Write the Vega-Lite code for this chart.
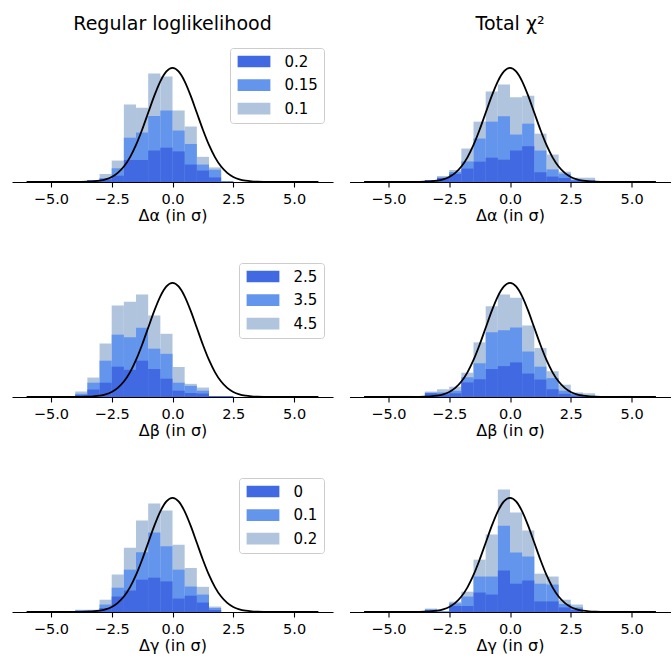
{
  "$schema": "https://vega.github.io/schema/vega-lite/v6.json",
  "padding": {"left": 12, "top": 15, "right": 0, "bottom": 0},
  "datasets": {
    "hist": [
      {"p":"ar","a":-3.5,"b":-3,"k":3,"s":"0.1","v":0.007},{"p":"ar","a":-3.5,"b":-3,"k":2,"s":"0.15","v":0.007},{"p":"ar","a":-3.5,"b":-3,"k":1,"s":"0.2","v":0.007},
      {"p":"ar","a":-3,"b":-2.5,"k":3,"s":"0.1","v":0.028},{"p":"ar","a":-3,"b":-2.5,"k":2,"s":"0.15","v":0.014},{"p":"ar","a":-3,"b":-2.5,"k":1,"s":"0.2","v":0.009},
      {"p":"ar","a":-2.5,"b":-2,"k":3,"s":"0.1","v":0.075},{"p":"ar","a":-2.5,"b":-2,"k":2,"s":"0.15","v":0.048},{"p":"ar","a":-2.5,"b":-2,"k":1,"s":"0.2","v":0.022},
      {"p":"ar","a":-2,"b":-1.5,"k":3,"s":"0.1","v":0.271},{"p":"ar","a":-2,"b":-1.5,"k":2,"s":"0.15","v":0.155},{"p":"ar","a":-2,"b":-1.5,"k":1,"s":"0.2","v":0.077},
      {"p":"ar","a":-1.5,"b":-1,"k":3,"s":"0.1","v":0.260},{"p":"ar","a":-1.5,"b":-1,"k":2,"s":"0.15","v":0.173},{"p":"ar","a":-1.5,"b":-1,"k":1,"s":"0.2","v":0.077},
      {"p":"ar","a":-1,"b":-0.5,"k":3,"s":"0.1","v":0.379},{"p":"ar","a":-1,"b":-0.5,"k":2,"s":"0.15","v":0.231},{"p":"ar","a":-1,"b":-0.5,"k":1,"s":"0.2","v":0.110},
      {"p":"ar","a":-0.5,"b":0,"k":3,"s":"0.1","v":0.369},{"p":"ar","a":-0.5,"b":0,"k":2,"s":"0.15","v":0.250},{"p":"ar","a":-0.5,"b":0,"k":1,"s":"0.2","v":0.120},
      {"p":"ar","a":0,"b":0.5,"k":3,"s":"0.1","v":0.250},{"p":"ar","a":0,"b":0.5,"k":2,"s":"0.15","v":0.180},{"p":"ar","a":0,"b":0.5,"k":1,"s":"0.2","v":0.107},
      {"p":"ar","a":0.5,"b":1,"k":3,"s":"0.1","v":0.194},{"p":"ar","a":0.5,"b":1,"k":2,"s":"0.15","v":0.133},{"p":"ar","a":0.5,"b":1,"k":1,"s":"0.2","v":0.061},
      {"p":"ar","a":1,"b":1.5,"k":3,"s":"0.1","v":0.088},{"p":"ar","a":1,"b":1.5,"k":2,"s":"0.15","v":0.061},{"p":"ar","a":1,"b":1.5,"k":1,"s":"0.2","v":0.040},
      {"p":"ar","a":1.5,"b":2,"k":3,"s":"0.1","v":0.051},{"p":"ar","a":1.5,"b":2,"k":2,"s":"0.15","v":0.043},{"p":"ar","a":1.5,"b":2,"k":1,"s":"0.2","v":0.016},
      {"p":"ar","a":2,"b":2.5,"k":3,"s":"0.1","v":0.002},{"p":"ar","a":2,"b":2.5,"k":2,"s":"0.15","v":0.002},{"p":"ar","a":2,"b":2.5,"k":1,"s":"0.2","v":0.002},

      {"p":"at","a":-3.5,"b":-3,"k":3,"s":"0.1","v":0.007},{"p":"at","a":-3.5,"b":-3,"k":2,"s":"0.15","v":0.007},{"p":"at","a":-3.5,"b":-3,"k":1,"s":"0.2","v":0.007},
      {"p":"at","a":-3,"b":-2.5,"k":3,"s":"0.1","v":0.021},{"p":"at","a":-3,"b":-2.5,"k":2,"s":"0.15","v":0.016},{"p":"at","a":-3,"b":-2.5,"k":1,"s":"0.2","v":0.014},
      {"p":"at","a":-2.5,"b":-2,"k":3,"s":"0.1","v":0.042},{"p":"at","a":-2.5,"b":-2,"k":2,"s":"0.15","v":0.035},{"p":"at","a":-2.5,"b":-2,"k":1,"s":"0.2","v":0.028},
      {"p":"at","a":-2,"b":-1.5,"k":3,"s":"0.1","v":0.117},{"p":"at","a":-2,"b":-1.5,"k":2,"s":"0.15","v":0.072},{"p":"at","a":-2,"b":-1.5,"k":1,"s":"0.2","v":0.047},
      {"p":"at","a":-1.5,"b":-1,"k":3,"s":"0.1","v":0.211},{"p":"at","a":-1.5,"b":-1,"k":2,"s":"0.15","v":0.152},{"p":"at","a":-1.5,"b":-1,"k":1,"s":"0.2","v":0.071},
      {"p":"at","a":-1,"b":-0.5,"k":3,"s":"0.1","v":0.316},{"p":"at","a":-1,"b":-0.5,"k":2,"s":"0.15","v":0.211},{"p":"at","a":-1,"b":-0.5,"k":1,"s":"0.2","v":0.085},
      {"p":"at","a":-0.5,"b":0,"k":3,"s":"0.1","v":0.341},{"p":"at","a":-0.5,"b":0,"k":2,"s":"0.15","v":0.230},{"p":"at","a":-0.5,"b":0,"k":1,"s":"0.2","v":0.078},
      {"p":"at","a":0,"b":0.5,"k":3,"s":"0.1","v":0.296},{"p":"at","a":0,"b":0.5,"k":2,"s":"0.15","v":0.166},{"p":"at","a":0,"b":0.5,"k":1,"s":"0.2","v":0.110},
      {"p":"at","a":0.5,"b":1,"k":3,"s":"0.1","v":0.302},{"p":"at","a":0.5,"b":1,"k":2,"s":"0.15","v":0.204},{"p":"at","a":0.5,"b":1,"k":1,"s":"0.2","v":0.125},
      {"p":"at","a":1,"b":1.5,"k":3,"s":"0.1","v":0.169},{"p":"at","a":1,"b":1.5,"k":2,"s":"0.15","v":0.110},{"p":"at","a":1,"b":1.5,"k":1,"s":"0.2","v":0.034},
      {"p":"at","a":1.5,"b":2,"k":3,"s":"0.1","v":0.096},{"p":"at","a":1.5,"b":2,"k":2,"s":"0.15","v":0.044},{"p":"at","a":1.5,"b":2,"k":1,"s":"0.2","v":0.019},
      {"p":"at","a":2,"b":2.5,"k":3,"s":"0.1","v":0.036},{"p":"at","a":2,"b":2.5,"k":2,"s":"0.15","v":0.029},{"p":"at","a":2,"b":2.5,"k":1,"s":"0.2","v":0.014},
      {"p":"at","a":2.5,"b":3,"k":3,"s":"0.1","v":0.015},{"p":"at","a":2.5,"b":3,"k":2,"s":"0.15","v":0.007},{"p":"at","a":2.5,"b":3,"k":1,"s":"0.2","v":0.005},
      {"p":"at","a":3,"b":3.5,"k":3,"s":"0.1","v":0.015},{"p":"at","a":3,"b":3.5,"k":2,"s":"0.15","v":0.007},{"p":"at","a":3,"b":3.5,"k":1,"s":"0.2","v":0.005},

      {"p":"br","a":-4,"b":-3.5,"k":3,"s":"4.5","v":0.019},{"p":"br","a":-4,"b":-3.5,"k":2,"s":"3.5","v":0.011},{"p":"br","a":-4,"b":-3.5,"k":1,"s":"2.5","v":0.007},
      {"p":"br","a":-3.5,"b":-3,"k":3,"s":"4.5","v":0.068},{"p":"br","a":-3.5,"b":-3,"k":2,"s":"3.5","v":0.050},{"p":"br","a":-3.5,"b":-3,"k":1,"s":"2.5","v":0.026},
      {"p":"br","a":-3,"b":-2.5,"k":3,"s":"4.5","v":0.187},{"p":"br","a":-3,"b":-2.5,"k":2,"s":"3.5","v":0.127},{"p":"br","a":-3,"b":-2.5,"k":1,"s":"2.5","v":0.050},
      {"p":"br","a":-2.5,"b":-2,"k":3,"s":"4.5","v":0.320},{"p":"br","a":-2.5,"b":-2,"k":2,"s":"3.5","v":0.218},{"p":"br","a":-2.5,"b":-2,"k":1,"s":"2.5","v":0.106},
      {"p":"br","a":-2,"b":-1.5,"k":3,"s":"4.5","v":0.333},{"p":"br","a":-2,"b":-1.5,"k":2,"s":"3.5","v":0.209},{"p":"br","a":-2,"b":-1.5,"k":1,"s":"2.5","v":0.095},
      {"p":"br","a":-1.5,"b":-1,"k":3,"s":"4.5","v":0.358},{"p":"br","a":-1.5,"b":-1,"k":2,"s":"3.5","v":0.242},{"p":"br","a":-1.5,"b":-1,"k":1,"s":"2.5","v":0.127},
      {"p":"br","a":-1,"b":-0.5,"k":3,"s":"4.5","v":0.285},{"p":"br","a":-1,"b":-0.5,"k":2,"s":"3.5","v":0.169},{"p":"br","a":-1,"b":-0.5,"k":1,"s":"2.5","v":0.098},
      {"p":"br","a":-0.5,"b":0,"k":3,"s":"4.5","v":0.221},{"p":"br","a":-0.5,"b":0,"k":2,"s":"3.5","v":0.151},{"p":"br","a":-0.5,"b":0,"k":1,"s":"2.5","v":0.064},
      {"p":"br","a":0,"b":0.5,"k":3,"s":"4.5","v":0.105},{"p":"br","a":0,"b":0.5,"k":2,"s":"3.5","v":0.050},{"p":"br","a":0,"b":0.5,"k":1,"s":"2.5","v":0.022},
      {"p":"br","a":0.5,"b":1,"k":3,"s":"4.5","v":0.046},{"p":"br","a":0.5,"b":1,"k":2,"s":"3.5","v":0.039},{"p":"br","a":0.5,"b":1,"k":1,"s":"2.5","v":0.014},
      {"p":"br","a":1,"b":1.5,"k":3,"s":"4.5","v":0.033},{"p":"br","a":1,"b":1.5,"k":2,"s":"3.5","v":0.022},{"p":"br","a":1,"b":1.5,"k":1,"s":"2.5","v":0.012},
      {"p":"br","a":1.5,"b":2,"k":3,"s":"4.5","v":0.003},{"p":"br","a":1.5,"b":2,"k":2,"s":"3.5","v":0.003},{"p":"br","a":1.5,"b":2,"k":1,"s":"2.5","v":0.003},
      {"p":"br","a":2,"b":2.5,"k":3,"s":"4.5","v":0.003},{"p":"br","a":2,"b":2.5,"k":2,"s":"3.5","v":0.003},{"p":"br","a":2,"b":2.5,"k":1,"s":"2.5","v":0.003},

      {"p":"bt","a":-5,"b":-4.5,"k":3,"s":"4.5","v":0.004},
      {"p":"bt","a":-4.5,"b":-4,"k":3,"s":"4.5","v":0.004},
      {"p":"bt","a":-3.5,"b":-3,"k":3,"s":"4.5","v":0.019},{"p":"bt","a":-3.5,"b":-3,"k":2,"s":"3.5","v":0.015},{"p":"bt","a":-3.5,"b":-3,"k":1,"s":"2.5","v":0.013},
      {"p":"bt","a":-3,"b":-2.5,"k":3,"s":"4.5","v":0.027},{"p":"bt","a":-3,"b":-2.5,"k":2,"s":"3.5","v":0.016},{"p":"bt","a":-3,"b":-2.5,"k":1,"s":"2.5","v":0.009},
      {"p":"bt","a":-2.5,"b":-2,"k":3,"s":"4.5","v":0.036},{"p":"bt","a":-2.5,"b":-2,"k":2,"s":"3.5","v":0.022},{"p":"bt","a":-2.5,"b":-2,"k":1,"s":"2.5","v":0.013},
      {"p":"bt","a":-2,"b":-1.5,"k":3,"s":"4.5","v":0.085},{"p":"bt","a":-2,"b":-1.5,"k":2,"s":"3.5","v":0.069},{"p":"bt","a":-2,"b":-1.5,"k":1,"s":"2.5","v":0.051},
      {"p":"bt","a":-1.5,"b":-1,"k":3,"s":"4.5","v":0.191},{"p":"bt","a":-1.5,"b":-1,"k":2,"s":"3.5","v":0.118},{"p":"bt","a":-1.5,"b":-1,"k":1,"s":"2.5","v":0.062},
      {"p":"bt","a":-1,"b":-0.5,"k":3,"s":"4.5","v":0.317},{"p":"bt","a":-1,"b":-0.5,"k":2,"s":"3.5","v":0.226},{"p":"bt","a":-1,"b":-0.5,"k":1,"s":"2.5","v":0.098},
      {"p":"bt","a":-0.5,"b":0,"k":3,"s":"4.5","v":0.358},{"p":"bt","a":-0.5,"b":0,"k":2,"s":"3.5","v":0.233},{"p":"bt","a":-0.5,"b":0,"k":1,"s":"2.5","v":0.108},
      {"p":"bt","a":0,"b":0.5,"k":3,"s":"4.5","v":0.347},{"p":"bt","a":0,"b":0.5,"k":2,"s":"3.5","v":0.243},{"p":"bt","a":0,"b":0.5,"k":1,"s":"2.5","v":0.121},
      {"p":"bt","a":0.5,"b":1,"k":3,"s":"4.5","v":0.250},{"p":"bt","a":0.5,"b":1,"k":2,"s":"3.5","v":0.159},{"p":"bt","a":0.5,"b":1,"k":1,"s":"2.5","v":0.082},
      {"p":"bt","a":1,"b":1.5,"k":3,"s":"4.5","v":0.171},{"p":"bt","a":1,"b":1.5,"k":2,"s":"3.5","v":0.106},{"p":"bt","a":1,"b":1.5,"k":1,"s":"2.5","v":0.061},
      {"p":"bt","a":1.5,"b":2,"k":3,"s":"4.5","v":0.090},{"p":"bt","a":1.5,"b":2,"k":2,"s":"3.5","v":0.066},{"p":"bt","a":1.5,"b":2,"k":1,"s":"2.5","v":0.027},
      {"p":"bt","a":2,"b":2.5,"k":3,"s":"4.5","v":0.043},{"p":"bt","a":2,"b":2.5,"k":2,"s":"3.5","v":0.022},{"p":"bt","a":2,"b":2.5,"k":1,"s":"2.5","v":0.011},
      {"p":"bt","a":2.5,"b":3,"k":3,"s":"4.5","v":0.016},{"p":"bt","a":2.5,"b":3,"k":2,"s":"3.5","v":0.011},{"p":"bt","a":2.5,"b":3,"k":1,"s":"2.5","v":0.005},
      {"p":"bt","a":3,"b":3.5,"k":3,"s":"4.5","v":0.013},{"p":"bt","a":3,"b":3.5,"k":2,"s":"3.5","v":0.005},{"p":"bt","a":3,"b":3.5,"k":1,"s":"2.5","v":0.002},
      {"p":"bt","a":4.5,"b":5,"k":3,"s":"4.5","v":0.004},

      {"p":"gr","a":-4.5,"b":-4,"k":3,"s":"0.2","v":0.003},{"p":"gr","a":-4.5,"b":-4,"k":2,"s":"0.1","v":0.002},{"p":"gr","a":-4.5,"b":-4,"k":1,"s":"0","v":0.002},
      {"p":"gr","a":-4,"b":-3.5,"k":3,"s":"0.2","v":0.008},{"p":"gr","a":-4,"b":-3.5,"k":2,"s":"0.1","v":0.005},{"p":"gr","a":-4,"b":-3.5,"k":1,"s":"0","v":0.004},
      {"p":"gr","a":-3.5,"b":-3,"k":3,"s":"0.2","v":0.008},{"p":"gr","a":-3.5,"b":-3,"k":2,"s":"0.1","v":0.006},{"p":"gr","a":-3.5,"b":-3,"k":1,"s":"0","v":0.005},
      {"p":"gr","a":-3,"b":-2.5,"k":3,"s":"0.2","v":0.043},{"p":"gr","a":-3,"b":-2.5,"k":2,"s":"0.1","v":0.026},{"p":"gr","a":-3,"b":-2.5,"k":1,"s":"0","v":0.014},
      {"p":"gr","a":-2.5,"b":-2,"k":3,"s":"0.2","v":0.131},{"p":"gr","a":-2.5,"b":-2,"k":2,"s":"0.1","v":0.085},{"p":"gr","a":-2.5,"b":-2,"k":1,"s":"0","v":0.054},
      {"p":"gr","a":-2,"b":-1.5,"k":3,"s":"0.2","v":0.225},{"p":"gr","a":-2,"b":-1.5,"k":2,"s":"0.1","v":0.148},{"p":"gr","a":-2,"b":-1.5,"k":1,"s":"0","v":0.075},
      {"p":"gr","a":-1.5,"b":-1,"k":3,"s":"0.2","v":0.320},{"p":"gr","a":-1.5,"b":-1,"k":2,"s":"0.1","v":0.209},{"p":"gr","a":-1.5,"b":-1,"k":1,"s":"0","v":0.113},
      {"p":"gr","a":-1,"b":-0.5,"k":3,"s":"0.2","v":0.379},{"p":"gr","a":-1,"b":-0.5,"k":2,"s":"0.1","v":0.278},{"p":"gr","a":-1,"b":-0.5,"k":1,"s":"0","v":0.120},
      {"p":"gr","a":-0.5,"b":0,"k":3,"s":"0.2","v":0.355},{"p":"gr","a":-0.5,"b":0,"k":2,"s":"0.1","v":0.230},{"p":"gr","a":-0.5,"b":0,"k":1,"s":"0","v":0.107},
      {"p":"gr","a":0,"b":0.5,"k":3,"s":"0.2","v":0.235},{"p":"gr","a":0,"b":0.5,"k":2,"s":"0.1","v":0.148},{"p":"gr","a":0,"b":0.5,"k":1,"s":"0","v":0.047},
      {"p":"gr","a":0.5,"b":1,"k":3,"s":"0.2","v":0.154},{"p":"gr","a":0.5,"b":1,"k":2,"s":"0.1","v":0.089},{"p":"gr","a":0.5,"b":1,"k":1,"s":"0","v":0.057},
      {"p":"gr","a":1,"b":1.5,"k":3,"s":"0.2","v":0.088},{"p":"gr","a":1,"b":1.5,"k":2,"s":"0.1","v":0.061},{"p":"gr","a":1,"b":1.5,"k":1,"s":"0","v":0.033},
      {"p":"gr","a":1.5,"b":2,"k":3,"s":"0.2","v":0.019},{"p":"gr","a":1.5,"b":2,"k":2,"s":"0.1","v":0.014},{"p":"gr","a":1.5,"b":2,"k":1,"s":"0","v":0.007},

      {"p":"gt","a":-3.5,"b":-3,"k":3,"s":"0.2","v":0.012},{"p":"gt","a":-3.5,"b":-3,"k":2,"s":"0.1","v":0.009},{"p":"gt","a":-3.5,"b":-3,"k":1,"s":"0","v":0.007},
      {"p":"gt","a":-3,"b":-2.5,"k":3,"s":"0.2","v":0.002},{"p":"gt","a":-3,"b":-2.5,"k":2,"s":"0.1","v":0.002},{"p":"gt","a":-3,"b":-2.5,"k":1,"s":"0","v":0.001},
      {"p":"gt","a":-2.5,"b":-2,"k":3,"s":"0.2","v":0.036},{"p":"gt","a":-2.5,"b":-2,"k":2,"s":"0.1","v":0.030},{"p":"gt","a":-2.5,"b":-2,"k":1,"s":"0","v":0.021},
      {"p":"gt","a":-2,"b":-1.5,"k":3,"s":"0.2","v":0.071},{"p":"gt","a":-2,"b":-1.5,"k":2,"s":"0.1","v":0.054},{"p":"gt","a":-2,"b":-1.5,"k":1,"s":"0","v":0.021},
      {"p":"gt","a":-1.5,"b":-1,"k":3,"s":"0.2","v":0.183},{"p":"gt","a":-1.5,"b":-1,"k":2,"s":"0.1","v":0.124},{"p":"gt","a":-1.5,"b":-1,"k":1,"s":"0","v":0.068},
      {"p":"gt","a":-1,"b":-0.5,"k":3,"s":"0.2","v":0.271},{"p":"gt","a":-1,"b":-0.5,"k":2,"s":"0.1","v":0.124},{"p":"gt","a":-1,"b":-0.5,"k":1,"s":"0","v":0.061},
      {"p":"gt","a":-0.5,"b":0,"k":3,"s":"0.2","v":0.428},{"p":"gt","a":-0.5,"b":0,"k":2,"s":"0.1","v":0.302},{"p":"gt","a":-0.5,"b":0,"k":1,"s":"0","v":0.145},
      {"p":"gt","a":0,"b":0.5,"k":3,"s":"0.2","v":0.348},{"p":"gt","a":0,"b":0.5,"k":2,"s":"0.1","v":0.208},{"p":"gt","a":0,"b":0.5,"k":1,"s":"0","v":0.099},
      {"p":"gt","a":0.5,"b":1,"k":3,"s":"0.2","v":0.285},{"p":"gt","a":0.5,"b":1,"k":2,"s":"0.1","v":0.194},{"p":"gt","a":0.5,"b":1,"k":1,"s":"0","v":0.110},
      {"p":"gt","a":1,"b":1.5,"k":3,"s":"0.2","v":0.134},{"p":"gt","a":1,"b":1.5,"k":2,"s":"0.1","v":0.099},{"p":"gt","a":1,"b":1.5,"k":1,"s":"0","v":0.037},
      {"p":"gt","a":1.5,"b":2,"k":3,"s":"0.2","v":0.124},{"p":"gt","a":1.5,"b":2,"k":2,"s":"0.1","v":0.096},{"p":"gt","a":1.5,"b":2,"k":1,"s":"0","v":0.037},
      {"p":"gt","a":2,"b":2.5,"k":3,"s":"0.2","v":0.043},{"p":"gt","a":2,"b":2.5,"k":2,"s":"0.1","v":0.028},{"p":"gt","a":2,"b":2.5,"k":1,"s":"0","v":0.016},
      {"p":"gt","a":2.5,"b":3,"k":3,"s":"0.2","v":0.026},{"p":"gt","a":2.5,"b":3,"k":2,"s":"0.1","v":0.016},{"p":"gt","a":2.5,"b":3,"k":1,"s":"0","v":0.007}
    ],
    "curve": [
      {"x":-6,"y":0},{"x":-5,"y":0},{"x":-4.5,"y":0.00002},{"x":-4,"y":0.00013},{"x":-3.75,"y":0.00035},{"x":-3.5,"y":0.00087},{"x":-3.25,"y":0.00203},
      {"x":-3,"y":0.00443},{"x":-2.75,"y":0.00909},{"x":-2.5,"y":0.01753},{"x":-2.25,"y":0.03174},{"x":-2,"y":0.05399},{"x":-1.75,"y":0.08628},
      {"x":-1.5,"y":0.12952},{"x":-1.25,"y":0.18265},{"x":-1,"y":0.24197},{"x":-0.75,"y":0.30114},{"x":-0.5,"y":0.35207},{"x":-0.25,"y":0.38667},
      {"x":0,"y":0.39894},
      {"x":0.25,"y":0.38667},{"x":0.5,"y":0.35207},{"x":0.75,"y":0.30114},{"x":1,"y":0.24197},{"x":1.25,"y":0.18265},{"x":1.5,"y":0.12952},
      {"x":1.75,"y":0.08628},{"x":2,"y":0.05399},{"x":2.25,"y":0.03174},{"x":2.5,"y":0.01753},{"x":2.75,"y":0.00909},{"x":3,"y":0.00443},
      {"x":3.25,"y":0.00203},{"x":3.5,"y":0.00087},{"x":3.75,"y":0.00035},{"x":4,"y":0.00013},{"x":4.5,"y":0.00002},{"x":5,"y":0},{"x":6,"y":0}
    ]
  },
  "columns": 2,
  "spacing": {"row": 72, "column": 16.5},
  "bounds": "flush",
  "resolve": {"scale": {"color": "independent"}, "legend": {"color": "independent"}},
  "concat": [
    {
      "width": 321, "height": 143,
      "title": "Regular loglikelihood",
      "layer": [
        {"data": {"name": "hist"}, "transform": [{"filter": "datum.p == 'ar'"}],
         "mark": {"type": "bar"},
         "encoding": {
           "x": {"field": "a", "type": "quantitative", "scale": {"domain": [-6.6, 6.6], "nice": false, "zero": false}, "axis": {"title": "Δα (in σ)", "values": [-5, -2.5, 0, 2.5, 5], "format": ".1f"}},
           "x2": {"field": "b"},
           "y": {"field": "v", "type": "quantitative", "stack": null, "scale": {"domain": [0, 0.5], "nice": false}, "axis": null},
           "y2": {"datum": 0},
           "color": {"field": "s", "type": "nominal", "scale": {"domain": ["0.2", "0.15", "0.1"], "range": ["#4169e1", "#6495ed", "#b0c4de"]}, "legend": {}},
           "order": {"field": "k", "sort": "descending"}
         }},
        {"data": {"name": "curve"}, "mark": {"type": "line", "color": "black", "strokeWidth": 1.8, "interpolate": "monotone"},
         "encoding": {"x": {"field": "x", "type": "quantitative"}, "y": {"field": "y", "type": "quantitative"}}}
      ]
    },
    {
      "width": 321, "height": 143,
      "title": "Total χ²",
      "layer": [
        {"data": {"name": "hist"}, "transform": [{"filter": "datum.p == 'at'"}],
         "mark": {"type": "bar"},
         "encoding": {
           "x": {"field": "a", "type": "quantitative", "scale": {"domain": [-6.6, 6.6], "nice": false, "zero": false}, "axis": {"title": "Δα (in σ)", "values": [-5, -2.5, 0, 2.5, 5], "format": ".1f"}},
           "x2": {"field": "b"},
           "y": {"field": "v", "type": "quantitative", "stack": null, "scale": {"domain": [0, 0.5], "nice": false}, "axis": null},
           "y2": {"datum": 0},
           "color": {"field": "s", "type": "nominal", "scale": {"domain": ["0.2", "0.15", "0.1"], "range": ["#4169e1", "#6495ed", "#b0c4de"]}, "legend": null},
           "order": {"field": "k", "sort": "descending"}
         }},
        {"data": {"name": "curve"}, "mark": {"type": "line", "color": "black", "strokeWidth": 1.8, "interpolate": "monotone"},
         "encoding": {"x": {"field": "x", "type": "quantitative"}, "y": {"field": "y", "type": "quantitative"}}}
      ]
    },
    {
      "width": 321, "height": 143,
      "layer": [
        {"data": {"name": "hist"}, "transform": [{"filter": "datum.p == 'br'"}],
         "mark": {"type": "bar"},
         "encoding": {
           "x": {"field": "a", "type": "quantitative", "scale": {"domain": [-6.6, 6.6], "nice": false, "zero": false}, "axis": {"title": "Δβ (in σ)", "values": [-5, -2.5, 0, 2.5, 5], "format": ".1f"}},
           "x2": {"field": "b"},
           "y": {"field": "v", "type": "quantitative", "stack": null, "scale": {"domain": [0, 0.5], "nice": false}, "axis": null},
           "y2": {"datum": 0},
           "color": {"field": "s", "type": "nominal", "scale": {"domain": ["2.5", "3.5", "4.5"], "range": ["#4169e1", "#6495ed", "#b0c4de"]}, "legend": {}},
           "order": {"field": "k", "sort": "descending"}
         }},
        {"data": {"name": "curve"}, "mark": {"type": "line", "color": "black", "strokeWidth": 1.8, "interpolate": "monotone"},
         "encoding": {"x": {"field": "x", "type": "quantitative"}, "y": {"field": "y", "type": "quantitative"}}}
      ]
    },
    {
      "width": 321, "height": 143,
      "layer": [
        {"data": {"name": "hist"}, "transform": [{"filter": "datum.p == 'bt'"}],
         "mark": {"type": "bar"},
         "encoding": {
           "x": {"field": "a", "type": "quantitative", "scale": {"domain": [-6.6, 6.6], "nice": false, "zero": false}, "axis": {"title": "Δβ (in σ)", "values": [-5, -2.5, 0, 2.5, 5], "format": ".1f"}},
           "x2": {"field": "b"},
           "y": {"field": "v", "type": "quantitative", "stack": null, "scale": {"domain": [0, 0.5], "nice": false}, "axis": null},
           "y2": {"datum": 0},
           "color": {"field": "s", "type": "nominal", "scale": {"domain": ["2.5", "3.5", "4.5"], "range": ["#4169e1", "#6495ed", "#b0c4de"]}, "legend": null},
           "order": {"field": "k", "sort": "descending"}
         }},
        {"data": {"name": "curve"}, "mark": {"type": "line", "color": "black", "strokeWidth": 1.8, "interpolate": "monotone"},
         "encoding": {"x": {"field": "x", "type": "quantitative"}, "y": {"field": "y", "type": "quantitative"}}}
      ]
    },
    {
      "width": 321, "height": 143,
      "layer": [
        {"data": {"name": "hist"}, "transform": [{"filter": "datum.p == 'gr'"}],
         "mark": {"type": "bar"},
         "encoding": {
           "x": {"field": "a", "type": "quantitative", "scale": {"domain": [-6.6, 6.6], "nice": false, "zero": false}, "axis": {"title": "Δγ (in σ)", "values": [-5, -2.5, 0, 2.5, 5], "format": ".1f"}},
           "x2": {"field": "b"},
           "y": {"field": "v", "type": "quantitative", "stack": null, "scale": {"domain": [0, 0.5], "nice": false}, "axis": null},
           "y2": {"datum": 0},
           "color": {"field": "s", "type": "nominal", "scale": {"domain": ["0", "0.1", "0.2"], "range": ["#4169e1", "#6495ed", "#b0c4de"]}, "legend": {}},
           "order": {"field": "k", "sort": "descending"}
         }},
        {"data": {"name": "curve"}, "mark": {"type": "line", "color": "black", "strokeWidth": 1.8, "interpolate": "monotone"},
         "encoding": {"x": {"field": "x", "type": "quantitative"}, "y": {"field": "y", "type": "quantitative"}}}
      ]
    },
    {
      "width": 321, "height": 143,
      "layer": [
        {"data": {"name": "hist"}, "transform": [{"filter": "datum.p == 'gt'"}],
         "mark": {"type": "bar"},
         "encoding": {
           "x": {"field": "a", "type": "quantitative", "scale": {"domain": [-6.6, 6.6], "nice": false, "zero": false}, "axis": {"title": "Δγ (in σ)", "values": [-5, -2.5, 0, 2.5, 5], "format": ".1f"}},
           "x2": {"field": "b"},
           "y": {"field": "v", "type": "quantitative", "stack": null, "scale": {"domain": [0, 0.5], "nice": false}, "axis": null},
           "y2": {"datum": 0},
           "color": {"field": "s", "type": "nominal", "scale": {"domain": ["0", "0.1", "0.2"], "range": ["#4169e1", "#6495ed", "#b0c4de"]}, "legend": null},
           "order": {"field": "k", "sort": "descending"}
         }},
        {"data": {"name": "curve"}, "mark": {"type": "line", "color": "black", "strokeWidth": 1.8, "interpolate": "monotone"},
         "encoding": {"x": {"field": "x", "type": "quantitative"}, "y": {"field": "y", "type": "quantitative"}}}
      ]
    }
  ],
  "config": {
    "font": "DejaVu Sans",
    "view": {"stroke": null},
    "axis": {
      "domainColor": "black", "domainWidth": 1.1, "tickColor": "black", "tickWidth": 1.1, "tickSize": 5,
      "labelColor": "black", "labelFont": "DejaVu Sans", "labelFontSize": 14.5, "labelPadding": 5.5,
      "titleColor": "black", "titleFont": "DejaVu Sans", "titleFontSize": 16, "titleFontWeight": "normal", "titlePadding": 1.5,
      "grid": false
    },
    "title": {"font": "DejaVu Sans", "fontSize": 19, "fontWeight": "normal", "color": "black", "offset": 5},
    "legend": {
      "orient": "top-right", "offset": 9, "title": null,
      "labelFont": "DejaVu Sans", "labelFontSize": 15, "labelColor": "black", "labelOffset": 23, "symbolOffset": 10.5,
      "symbolType": "M-2.8,-1H2.8V1H-2.8Z", "symbolSize": 137, "symbolStrokeWidth": 0, "symbolOpacity": 1,
      "strokeColor": "#cccccc", "fillColor": "rgba(255,255,255,0.8)", "cornerRadius": 3, "padding": 6, "rowPadding": 7.6
    }
  }
}
